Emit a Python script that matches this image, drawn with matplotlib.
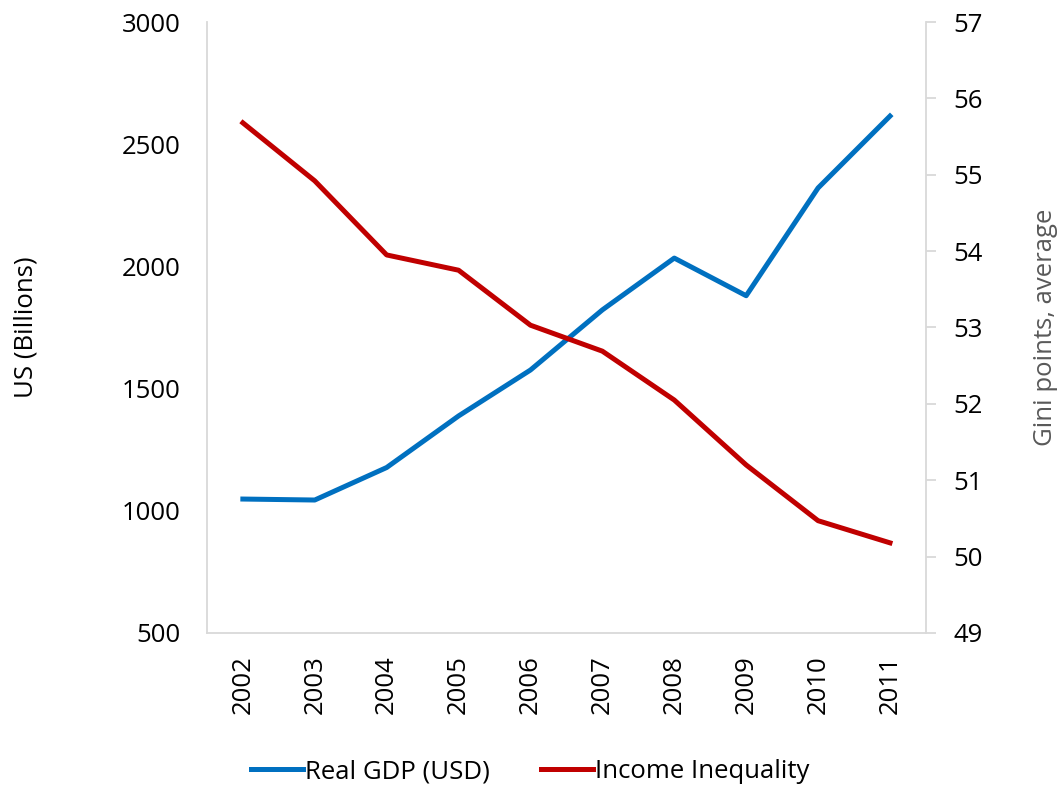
import matplotlib
matplotlib.use("Agg")
import matplotlib.pyplot as plt

# ── Datos ─────────────────────────────────────────────────────────────────────
anios = ["2002", "2003", "2004", "2005", "2006",
         "2007", "2008", "2009", "2010", "2011"]
pib_real = [1048, 1044, 1177, 1388, 1576, 1822, 2034, 1880, 2321, 2615]
desigualdad = [55.68, 54.92, 53.95, 53.75, 53.03,
               52.69, 52.05, 51.20, 50.47, 50.18]

# ── Colores y estilo ──────────────────────────────────────────────────────────
COLOR_PIB = "#0070C0"
COLOR_GINI = "#C00000"
COLOR_EJE = "#D9D9D9"
COLOR_TEXTO_DER = "#595959"
LW = 3.6
FS = 18.5

plt.rcParams["font.family"] = ["Open Sans", "DejaVu Sans"]

fig = plt.figure(figsize=(10.61, 7.86), dpi=100)
ax = fig.add_axes([0.195, 0.1947, 0.6777, 0.7773])
ax2 = ax.twinx()

x = list(range(len(anios)))
l1, = ax.plot(x, pib_real, color=COLOR_PIB, lw=LW, label="Real GDP (USD)")
l2, = ax2.plot(x, desigualdad, color=COLOR_GINI, lw=LW, label="Income Inequality")

ax.set_xlim(-0.5, len(anios) - 0.5)
ax.set_ylim(500, 3000)
ax.set_yticks(range(500, 3001, 500))
ax2.set_ylim(49, 57)
ax2.set_yticks(range(49, 58))

ax.set_xticks(x)
ax.set_xticklabels(anios, rotation=90, fontsize=FS)
ax.tick_params(axis="both", length=0, labelsize=FS)
ax.tick_params(axis="x", pad=16)
ax.tick_params(axis="y", pad=19)
# eje derecho con marcas cortas hacia fuera
ax2.tick_params(axis="y", length=7, width=1.3, color=COLOR_EJE,
                labelsize=FS, pad=13)

for a in (ax, ax2):
    a.spines["top"].set_visible(False)
    for s in ("left", "right", "bottom"):
        a.spines[s].set_color(COLOR_EJE)
        a.spines[s].set_linewidth(1.3)
ax.spines["right"].set_visible(False)
ax2.spines["left"].set_visible(False)
ax2.spines["bottom"].set_visible(False)

ax.set_ylabel("US (Billions)", fontsize=FS, labelpad=60)
ax2.set_ylabel("Gini points, average", fontsize=FS, color=COLOR_TEXTO_DER,
               labelpad=36)

fig.legend([l1, l2], ["Real GDP (USD)", "Income Inequality"],
           loc="center", bbox_to_anchor=(0.5, 0.018), ncol=2, frameon=False,
           fontsize=FS, handlelength=2.0, handletextpad=0.1, columnspacing=2.0)

fig.savefig("out.png", dpi=100, facecolor="white")
